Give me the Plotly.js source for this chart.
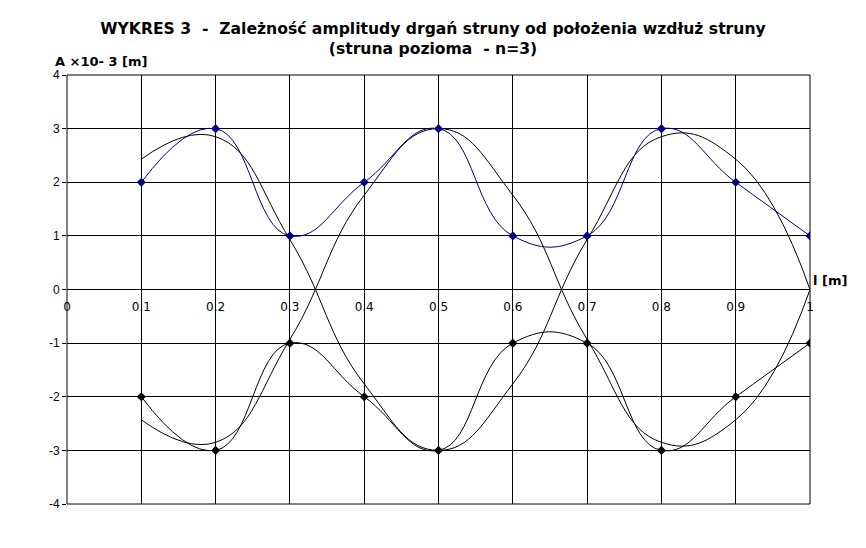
<!DOCTYPE html>
<html>
<head>
<meta charset="utf-8">
<script src="https://cdn.plot.ly/plotly-3.0.1.min.js"></script>
<style>html,body{margin:0;padding:0;background:#fff;}#chart{width:866px;height:548px;}</style>
</head>
<body>
<div id="chart"></div>
<script>
// Positions along the string [m]
const positions = [0.1, 0.2, 0.3, 0.4, 0.5, 0.6, 0.7, 0.8, 0.9, 1.0];
// Measured amplitude (upper envelope) [x10^-3 m]
const measuredUpper = [2, 3, 1, 2, 3, 1, 1, 3, 2, 1];
// Measured amplitude (lower envelope)
const measuredLower = [-2, -3, -1, -2, -3, -1, -1, -3, -2, -1];
// Theoretical curves
const theoryA = [2.43, 2.85, 0.93, -1.76, -3.0, -1.76, 0.93, 2.85, 2.43, 0];
const theoryB = [-2.43, -2.85, -0.93, 1.76, 3.0, 1.76, -0.93, -2.85, -2.43, 0];
// Tick labels
const xTickVals = [0, 0.1, 0.2, 0.3, 0.4, 0.5, 0.6, 0.7, 0.8, 0.9, 1];
const xTickText = ["0", "0.1", "0.2", "0.3", "0.4", "0.5", "0.6", "0.7", "0.8", "0.9", "1"];
const yTickVals = [-4, -3, -2, -1, 0, 1, 2, 3, 4];
const yTickText = ["-4", "-3", "-2", "-1", "0", "1", "2", "3", "4"];

const titleText = "WYKRES 3  -  Zależność amplitudy drgań struny od położenia wzdłuż struny<br>(struna pozioma  - n=3)";
const yTitleText = "A ×10- 3 [m]";
const xTitleText = "l [m]";

const SM = 1.3;
const traces = [
  {x: positions, y: theoryA, mode: "lines", line: {color: "#000000", width: 1, shape: "spline", smoothing: SM}, hoverinfo: "skip"},
  {x: positions, y: theoryB, mode: "lines", line: {color: "#000000", width: 1, shape: "spline", smoothing: SM}, hoverinfo: "skip"},
  {x: positions, y: measuredLower, mode: "lines+markers", line: {color: "#000000", width: 1, shape: "spline", smoothing: SM},
   marker: {symbol: "diamond", size: 7, color: "#000000"}},
  {x: positions, y: measuredUpper, mode: "lines+markers", line: {color: "#000080", width: 1, shape: "spline", smoothing: SM},
   marker: {symbol: "diamond", size: 7, color: "#000080"}}
];

const layout = {
  width: 866, height: 548,
  margin: {l: 67, r: 56, t: 75, b: 44},
  paper_bgcolor: "#ffffff", plot_bgcolor: "#ffffff",
  showlegend: false,
  font: {family: "DejaVu Sans", color: "#000000", size: 11},
  title: {text: titleText, x: 0.5, xanchor: "center", y: 0.938, yanchor: "top",
          font: {family: "DejaVu Sans", size: 15.6, color: "#000000", weight: "bold"}},
  xaxis: {
    range: [0, 1], tickvals: xTickVals, ticktext: xTickText,
    showgrid: true, gridcolor: "#000000", gridwidth: 1,
    zeroline: false, showline: false, ticks: "",
    anchor: "free", position: 0.5, ticklabelstandoff: 8,
    tickfont: {family: "DejaVu Sans", size: 12, color: "#000000"}
  },
  yaxis: {
    range: [-4, 4], tickvals: yTickVals, ticktext: yTickText,
    showgrid: true, gridcolor: "#000000", gridwidth: 1,
    zeroline: false, showline: false, ticks: "outside", ticklen: 4, tickcolor: "#000000",
    tickfont: {family: "Liberation Sans", size: 12, color: "#000000"}
  },
  shapes: [
    {type: "rect", xref: "paper", yref: "paper", x0: 0, x1: 1, y0: 0, y1: 1, line: {color: "#000000", width: 1}, layer: "below"}
  ],
  annotations: [
    {text: yTitleText, xref: "paper", yref: "paper", x: -0.019, y: 1.0, xanchor: "left", yanchor: "bottom", yshift: 4,
     showarrow: false, font: {family: "DejaVu Sans", size: 13, color: "#000000", weight: "bold"}},
    {text: xTitleText, xref: "paper", yref: "paper", x: 1.0, y: 0.5, xanchor: "left", yanchor: "bottom", xshift: 1, yshift: 0,
     showarrow: false, font: {family: "DejaVu Sans", size: 13, color: "#000000", weight: "bold"}}
  ]
};

Plotly.newPlot("chart", traces, layout, {staticPlot: true, displayModeBar: false});
</script>
</body>
</html>
